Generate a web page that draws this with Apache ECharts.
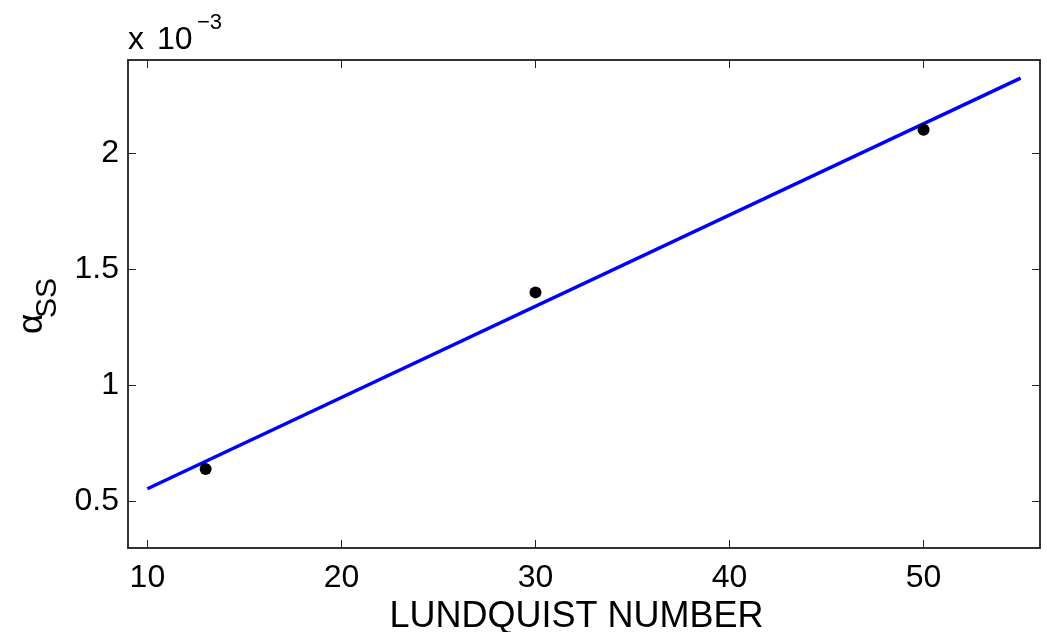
<!DOCTYPE html>
<html>
<head>
<meta charset="utf-8">
<script src="https://cdn.jsdelivr.net/npm/echarts@6/dist/echarts.min.js"></script>
<style>
  html, body { margin: 0; padding: 0; background: #fff; }
  #main { width: 1047px; height: 632px; }
</style>
</head>
<body>
<div id="main"></div>
<script>
const myChart = echarts.init(document.getElementById('main'));

// values of alpha_SS are in units of 1e-3 (as on the axis)
const lundquist = [13, 30, 50];
const alphaSS = [0.64, 1.40, 2.10];
// fitted line, end points
const fitX = [10, 55];
const fitY = [0.555, 2.322];
const xTicks = [10, 20, 30, 40, 50];
const yTicks = [0.5, 1, 1.5, 2];

const FONT = 'Liberation Sans, Arial, Helvetica, sans-serif';
const AXIS_COLOR = '#262626';

const tickStyle = ticks => ({
  show: true,
  inside: true,
  length: 8,
  customValues: ticks,
  lineStyle: { color: AXIS_COLOR, width: 1 }
});

const option = {
  animation: false,
  grid: {
    left: 128,
    top: 60,
    right: 7,
    bottom: 84,
    outerBoundsMode: 'none',
    containLabel: false,
    show: true,
    borderColor: AXIS_COLOR,
    borderWidth: 1.5
  },
  xAxis: [
    {
      type: 'value',
      min: 9,
      max: 56,
      position: 'bottom',
      name: 'LUNDQUIST NUMBER',
      nameLocation: 'middle',
      nameGap: 44,
      nameTextStyle: { fontFamily: FONT, fontSize: 36, color: '#000', padding: [0, 15, 0, 0] },
      axisLine: { show: true, onZero: false, lineStyle: { color: AXIS_COLOR, width: 1.5 } },
      axisTick: tickStyle(xTicks),
      axisLabel: { customValues: xTicks, fontFamily: FONT, fontSize: 32, color: '#000', margin: 14 },
      splitLine: { show: false }
    },
    {
      type: 'value',
      min: 9,
      max: 56,
      position: 'top',
      axisLine: { show: true, onZero: false, lineStyle: { color: AXIS_COLOR, width: 1.5 } },
      axisTick: tickStyle(xTicks),
      axisLabel: { show: false },
      splitLine: { show: false }
    }
  ],
  yAxis: [
    {
      type: 'value',
      min: 0.3,
      max: 2.4,
      position: 'left',
      axisLine: { show: true, onZero: false, lineStyle: { color: AXIS_COLOR, width: 1.5 } },
      axisTick: tickStyle(yTicks),
      axisLabel: { customValues: yTicks, fontFamily: FONT, fontSize: 32, color: '#000', margin: 9 },
      splitLine: { show: false }
    },
    {
      type: 'value',
      min: 0.3,
      max: 2.4,
      position: 'right',
      axisLine: { show: true, onZero: false, lineStyle: { color: AXIS_COLOR, width: 1.5 } },
      axisTick: tickStyle(yTicks),
      axisLabel: { show: false },
      splitLine: { show: false }
    }
  ],
  graphic: [
    // "x 10^-3" multiplier above the y axis
    {
      type: 'text',
      left: 128,
      top: 24,
      style: { text: 'x', font: '32px ' + FONT, fill: '#000' }
    },
    {
      type: 'text',
      left: 157,
      top: 24,
      style: { text: '10', font: '32px ' + FONT, fill: '#000' }
    },
    {
      type: 'text',
      left: 197,
      top: 12,
      style: { text: '\u22123', font: '22px ' + FONT, fill: '#000' }
    },
    // y axis label: alpha with subscript SS
    {
      type: 'text',
      x: 15,
      y: 334,
      rotation: Math.PI / 2,
      style: { text: '\u03b1', font: '35px ' + FONT, fill: '#000', textVerticalAlign: 'top' }
    },
    {
      type: 'text',
      x: 33,
      y: 318,
      rotation: Math.PI / 2,
      style: { text: 'SS', font: '30px ' + FONT, fill: '#000', textVerticalAlign: 'top' }
    }
  ],
  series: [
    {
      type: 'line',
      data: fitX.map((x, i) => [x, fitY[i]]),
      showSymbol: false,
      lineStyle: { color: '#0000ff', width: 3.5 },
      z: 2
    },
    {
      type: 'scatter',
      data: lundquist.map((x, i) => [x, alphaSS[i]]),
      symbol: 'circle',
      symbolSize: 12,
      itemStyle: { color: '#000', opacity: 1 },
      z: 3
    }
  ]
};

myChart.setOption(option);
</script>
</body>
</html>
